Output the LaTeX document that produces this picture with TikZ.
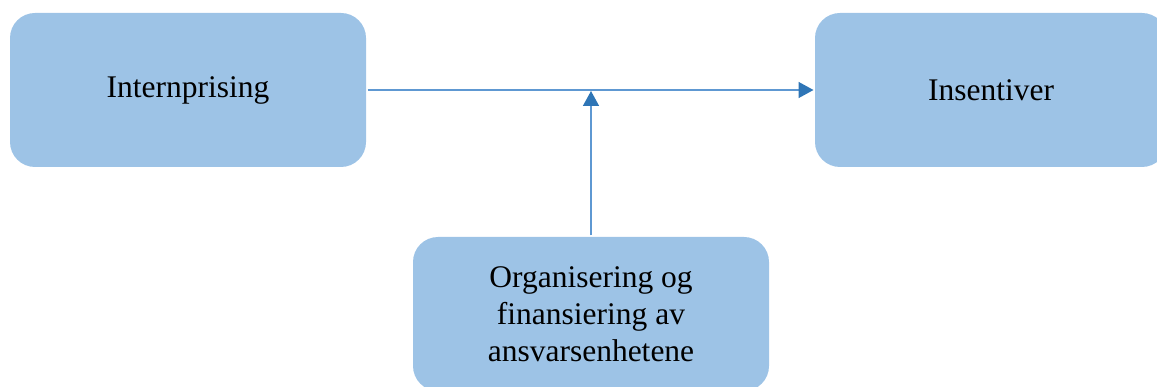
\documentclass[tikz,border=0pt]{standalone}
\usepackage{fontspec}
\setmainfont{Liberation Serif}
\usetikzlibrary{arrows.meta}
\definecolor{boxfill}{HTML}{9DC3E6}
\definecolor{linkline}{HTML}{5E98D2}
\definecolor{linktip}{HTML}{2E75B6}
\begin{document}
\begin{tikzpicture}[x=1pt,y=-1pt,
  block/.style={fill=boxfill, draw=none, rounded corners=25pt, inner sep=0pt,
    align=center, font=\fontsize{31.5}{37}\selectfont, text=black, outer sep=1.5pt},
  link/.style={draw=linkline, line width=1.5pt,
    -{Triangle[length=15pt,width=16pt,fill=linktip,color=linktip]}}]
  \useasboundingbox (0,0) rectangle (1157,387);
  % three boxes
  \node[block, minimum width=356pt, minimum height=154pt] (price) at (188,90) {Internprising};
  \node[block, minimum width=352pt, minimum height=154pt] (incent) at (991,90) {Insentiver};
  \node[block, minimum width=356pt, minimum height=154pt] (org) at (591,314)
    {Organisering og\\finansiering av\\ansvarsenhetene};
  % junction on the main arrow
  \coordinate (meet) at (591,91);
  % connectors
  \draw[link] (price.east) -- (incent.west);
  \draw[link] (org.north) -- (meet);
\end{tikzpicture}
\end{document}
